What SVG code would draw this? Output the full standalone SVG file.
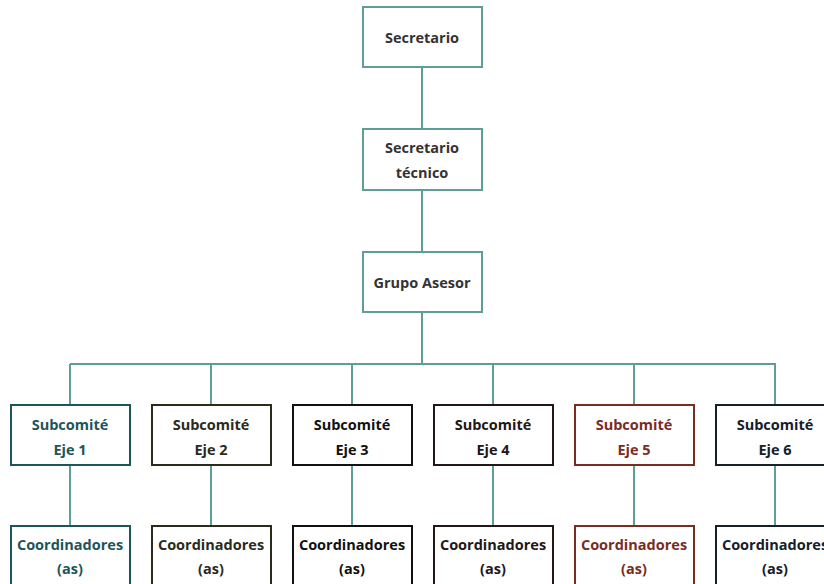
<svg xmlns="http://www.w3.org/2000/svg" width="824" height="584" viewBox="0 0 824 584">
<style>
text{font-family:"Open Sans","Noto Sans","DejaVu Sans",sans-serif;font-size:14.5px;font-weight:700;text-anchor:middle}
.box{fill:#fff;stroke-width:2}
.top{stroke:#5f9e98}
.top-t{fill:#333333}
.c{fill:none;stroke:#5f9e98;stroke-width:2}
.e1{stroke:#1d5558}.e1t{fill:#1d5558}
.e2{stroke:#2b2b1c}.e2t{fill:#2b2b1c}
.e3{stroke:#111111}.e3t{fill:#111111}
.e4{stroke:#231617}.e4t{fill:#231617}
.e5{stroke:#7a2c1f}.e5t{fill:#7a2c1f}
.e6{stroke:#15202a}.e6t{fill:#15202a}
</style>
<g id="connectors">
<path class="c" d="M422 67V129M422 190V252M422 312V364M70 364H776M70 364V405M211 364V405M352 364V405M493 364V405M634 364V405M775 364V405M70 465V526M211 465V526M352 465V526M493 465V526M634 465V526M775 465V526"/>
</g>
<g id="secretario"><rect class="box top" x="363" y="7" width="119" height="60"/><text class="top-t" x="422" y="43">Secretario</text></g>
<g id="secretario-tecnico"><rect class="box top" x="363" y="129" width="119" height="61"/><text class="top-t" x="422" y="153">Secretario</text><text class="top-t" x="422" y="178">técnico</text></g>
<g id="grupo-asesor"><rect class="box top" x="363" y="252" width="119" height="60"/><text class="top-t" x="422" y="288">Grupo Asesor</text></g>
<g id="subcomite-1"><rect class="box e1" x="11" y="405" width="119" height="60"/><text class="e1t" x="70" y="430">Subcomité</text><text class="e1t" x="70" y="455">Eje 1</text></g>
<g id="subcomite-2"><rect class="box e2" x="152" y="405" width="119" height="60"/><text class="e2t" x="211" y="430">Subcomité</text><text class="e2t" x="211" y="455">Eje 2</text></g>
<g id="subcomite-3"><rect class="box e3" x="293" y="405" width="119" height="60"/><text class="e3t" x="352" y="430">Subcomité</text><text class="e3t" x="352" y="455">Eje 3</text></g>
<g id="subcomite-4"><rect class="box e4" x="434" y="405" width="119" height="60"/><text class="e4t" x="493" y="430">Subcomité</text><text class="e4t" x="493" y="455">Eje 4</text></g>
<g id="subcomite-5"><rect class="box e5" x="575" y="405" width="119" height="60"/><text class="e5t" x="634" y="430">Subcomité</text><text class="e5t" x="634" y="455">Eje 5</text></g>
<g id="subcomite-6"><rect class="box e6" x="716" y="405" width="119" height="60"/><text class="e6t" x="775" y="430">Subcomité</text><text class="e6t" x="775" y="455">Eje 6</text></g>
<g id="coord-1"><rect class="box e1" x="11" y="526" width="119" height="70"/><text class="e1t" x="70" y="550">Coordinadores</text><text class="e1t" x="70" y="574">(as)</text></g>
<g id="coord-2"><rect class="box e2" x="152" y="526" width="119" height="70"/><text class="e2t" x="211" y="550">Coordinadores</text><text class="e2t" x="211" y="574">(as)</text></g>
<g id="coord-3"><rect class="box e3" x="293" y="526" width="119" height="70"/><text class="e3t" x="352" y="550">Coordinadores</text><text class="e3t" x="352" y="574">(as)</text></g>
<g id="coord-4"><rect class="box e4" x="434" y="526" width="119" height="70"/><text class="e4t" x="493" y="550">Coordinadores</text><text class="e4t" x="493" y="574">(as)</text></g>
<g id="coord-5"><rect class="box e5" x="575" y="526" width="119" height="70"/><text class="e5t" x="634" y="550">Coordinadores</text><text class="e5t" x="634" y="574">(as)</text></g>
<g id="coord-6"><rect class="box e6" x="716" y="526" width="119" height="70"/><text class="e6t" x="775" y="550">Coordinadores</text><text class="e6t" x="775" y="574">(as)</text></g>
</svg>
